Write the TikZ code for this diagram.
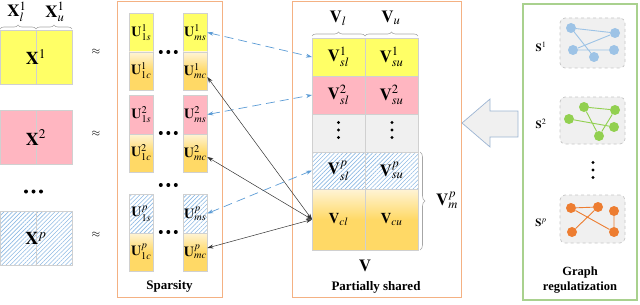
\documentclass[tikz,border=0pt]{standalone}
\usepackage{mathptmx}
\usepackage{fontspec}
\setmainfont{Liberation Serif}
\usetikzlibrary{patterns.meta,decorations.pathreplacing,fit,calc,arrows.meta}
\definecolor{cyel}{HTML}{FFFF66}
\definecolor{cpink}{HTML}{FFB6C1}
\definecolor{cgold}{HTML}{FFD966}
\definecolor{cgoldtop}{HTML}{FFF4D6}
\definecolor{chatch}{HTML}{8DB9E3}
\definecolor{cgray}{HTML}{F0F0F0}
\definecolor{cedge}{HTML}{D0D0D0}
\definecolor{corange}{HTML}{F4B183}
\definecolor{cgreen}{HTML}{A9D18E}
\definecolor{carrowb}{HTML}{5B9BD5}
\definecolor{cnblue}{HTML}{9DC3E6}
\definecolor{cngreen}{HTML}{92D050}
\definecolor{cnorange}{HTML}{ED7D31}
\definecolor{cbigarrow}{HTML}{9DB5D3}
\newcommand\myfs[1]{\fontsize{#1}{#1}\selectfont}
\newcommand\hdotsat[2]{\fill (#1-7.5,#2) circle (2pt) (#1,#2) circle (2pt) (#1+7.5,#2) circle (2pt);}
\newcommand\vdotsat[2]{\fill (#1,#2-7.5) circle (1.7pt) (#1,#2) circle (1.7pt) (#1,#2+7.5) circle (1.7pt);}
\tikzset{
  cell/.style={draw=cedge, line width=0.5pt, inner sep=0pt, outer sep=0pt},
  yel/.style={cell, fill=cyel},
  pnk/.style={cell, fill=cpink},
  gld/.style={cell, top color=cgoldtop, bottom color=cgold, middle color=cgold},
  hat/.style={cell, pattern={Lines[angle=45,distance=3pt,line width=0.6pt]}, pattern color=chatch},
  gry/.style={cell, fill=cgray},
  ucell/.style={minimum width=24pt, minimum height=39pt, font=\myfs{14}},
  ucellc/.style={minimum width=24pt, minimum height=38pt, font=\myfs{14}},
  vcell/.style={minimum width=53pt, minimum height=38pt, font=\myfs{17}},
  xcell/.style={minimum width=36pt, minimum height=54pt},
  brc/.style={decorate, decoration={brace, amplitude=4pt}, draw=gray!70, line width=0.6pt},
  frame/.style={inner sep=0pt, line width=1pt},
  panel/.style={draw=gray!45, dashed, fill=cgray, rounded corners=5pt, line width=0.7pt, inner sep=0pt},
  gn/.style={circle, inner sep=0pt, minimum size=10pt},
  blkarr/.style={draw=black!80, line width=0.5pt, {Stealth[length=6pt,width=4pt]}-{Stealth[length=6pt,width=4pt]}},
  bluarr/.style={draw=carrowb, line width=0.7pt, dash pattern=on 9pt off 5pt, {Stealth[length=6pt,width=4pt]}-{Stealth[length=6pt,width=4pt]}},
  lab/.style={font=\myfs{17}},
  bold/.style={font=\bfseries\myfs{13}}
}
\begin{document}
\begin{tikzpicture}[x=1pt,y=-1pt]
\useasboundingbox (0,0) rectangle (640,305);
% frames
\node[frame, draw=corange, fit={(117,2) (222,297)}] (spbox) {};
\node[frame, draw=corange, fit={(292,2) (461,297)}] (vbox) {};
\node[frame, draw=cgreen, line width=1.2pt, fit={(523,4) (637,300)}] (gbox) {};

% X blocks
\node[yel, xcell] (x1l) at (18,57) {};
\node[yel, xcell] (x1r) at (54,57) {};
\node[pnk, xcell] (x2l) at (18,137.5) {};
\node[pnk, xcell] (x2r) at (54,137.5) {};
\node[hat, xcell] (xpl) at (18,238.5) {};
\node[hat, xcell] (xpr) at (54,238.5) {};
\node[font=\myfs{18}] (x1) at (36,57) {$\mathbf{X}^1$};
\node[font=\myfs{18}] (x2) at (36,137.5) {$\mathbf{X}^2$};
\node[font=\myfs{18}] (xp) at (36,238.5) {$\mathbf{X}^p$};
\hdotsat{33.5}{191.5}
\draw[brc] ([yshift=1pt]x1l.north west) -- ([yshift=1pt]x1l.north east);
\draw[brc] ([yshift=1pt]x1r.north west) -- ([yshift=1pt]x1r.north east);
\node[lab] (xl) at (17,12) {$\mathbf{X}^1_l$};
\node[lab] (xu) at (55,12) {$\mathbf{X}^1_u$};
\node[font=\myfs{11}] (ap1) at (96,52) {$\approx$};
\node[font=\myfs{11}] (ap2) at (96,134) {$\approx$};
\node[font=\myfs{11}] (ap3) at (96,235) {$\approx$};

% U blocks
\node[yel, ucell] (u11s) at (141.3,32.5) {$\mathbf{U}^1_{1s}$};
\node[gld, ucellc] (u11c) at (141.3,71) {$\mathbf{U}^1_{1c}$};
\node[yel, ucell] (u1ms) at (195.3,32.5) {$\mathbf{U}^1_{ms}$};
\node[gld, ucellc] (u1mc) at (195.3,71) {$\mathbf{U}^1_{mc}$};
\node[pnk, ucell] (u21s) at (141.3,114.5) {$\mathbf{U}^2_{1s}$};
\node[gld, ucellc] (u21c) at (141.3,153) {$\mathbf{U}^2_{1c}$};
\node[pnk, ucell] (u2ms) at (195.3,114.5) {$\mathbf{U}^2_{ms}$};
\node[gld, ucellc] (u2mc) at (195.3,153) {$\mathbf{U}^2_{mc}$};
\node[hat, ucell] (up1s) at (141.3,213.5) {$\mathbf{U}^p_{1s}$};
\node[gld, ucellc] (up1c) at (141.3,252) {$\mathbf{U}^p_{1c}$};
\node[hat, ucell] (upms) at (195.3,213.5) {$\mathbf{U}^p_{ms}$};
\node[gld, ucellc] (upmc) at (195.3,252) {$\mathbf{U}^p_{mc}$};
\hdotsat{168.3}{52}
\hdotsat{168.3}{133}
\hdotsat{168.3}{185}
\hdotsat{168.3}{232}
\node[bold] (sparsity) at (169.5,286) {Sparsity};

% V blocks
\node[yel, vcell] (v1l) at (338.5,57) {$\mathbf{V}^1_{sl}$};
\node[yel, vcell] (v1u) at (391.5,57) {$\mathbf{V}^1_{su}$};
\node[pnk, vcell] (v2l) at (338.5,95) {$\mathbf{V}^2_{sl}$};
\node[pnk, vcell] (v2u) at (391.5,95) {$\mathbf{V}^2_{su}$};
\node[gry, vcell] (vdl) at (338.5,133) {};
\node[gry, vcell] (vdu) at (391.5,133) {};
\vdotsat{338.5}{130}
\vdotsat{392}{130}
\node[hat, vcell, minimum height=37pt] (vpl) at (338.5,170.5) {$\mathbf{V}^p_{sl}$};
\node[hat, vcell, minimum height=37pt] (vpu) at (391.5,170.5) {$\mathbf{V}^p_{su}$};
\node[gld, vcell, minimum height=61pt, font=\myfs{15}] (vcl) at (338.5,219.5) {$\mathbf{V}_{cl}$};
\node[gld, vcell, minimum height=61pt, font=\myfs{15}] (vcu) at (391.5,219.5) {$\mathbf{V}_{cu}$};
\draw[brc] ([yshift=2pt]v1l.north west) -- ([yshift=2pt]v1l.north east);
\draw[brc] ([yshift=2pt]v1u.north west) -- ([yshift=2pt]v1u.north east);
\draw[brc, decoration={brace, amplitude=5pt}] ([xshift=2pt]vpu.north east) -- ([xshift=2pt]vcu.south east);
\node[lab] (vl) at (338,18) {$\mathbf{V}_l$};
\node[lab] (vu) at (391,18) {$\mathbf{V}_u$};
\node[lab] (vmp) at (447,200) {$\mathbf{V}^p_m$};
\node[lab] (vbig) at (365,266) {$\mathbf{V}$};
\node[bold] (pshared) at (376,287) {Partially shared};

% connectors
\draw[bluarr] (u1ms.east) -- (v1l.west);
\draw[bluarr] (u2ms.east) -- (v2l.west);
\draw[bluarr] (upms.east) -- (vpl.west);
\draw[blkarr] ([yshift=-6pt]u1mc.east) -- (vcl.west);
\draw[blkarr] ([yshift=-4pt]u2mc.east) -- (vcl.west);
\draw[blkarr] ([yshift=4pt]upmc.east) -- (vcl.west);

% big hollow arrow
\draw[draw=cbigarrow, fill=cgray, line width=0.7pt] (462,123) -- (490,99) -- (490,111) -- (518,111) -- (518,137) -- (490,137) -- (490,147) -- cycle;

% graphs
\node[panel, fit={(560,18) (625,68)}] (p1) {};
\node[panel, fit={(560,97) (625,144)}] (p2) {};
\node[panel, fit={(560,195) (625,243)}] (p3) {};
\node[font=\myfs{11}] (s1) at (541,47) {$\mathbf{S}^1$};
\node[font=\myfs{11}] (s2) at (541,124) {$\mathbf{S}^2$};
\node[font=\myfs{11}] (sp) at (541,223) {$\mathbf{S}^p$};
\vdotsat{593}{170}

\begin{scope}[every node/.style={gn, fill=cnblue}]
\node (a1) at (571,28) {}; \node (b1) at (615,33) {}; \node (c1) at (573,50) {};
\node (d1) at (614,50) {}; \node (e1) at (594,57) {};
\end{scope}
\draw[cnblue, line width=0.9pt] (a1) -- (b1) (a1) -- (e1) (c1) -- (b1) (c1) -- (d1);
\begin{scope}[every node/.style={gn, fill=cngreen}]
\node (a2) at (584,107) {}; \node (b2) at (615,110) {}; \node (c2) at (569,119) {};
\node (d2) at (614,127) {}; \node (e2) at (599,136) {};
\end{scope}
\draw[cngreen, line width=0.9pt] (a2) -- (b2) (a2) -- (e2) (c2) -- (d2) (b2) -- (e2);
\begin{scope}[every node/.style={gn, fill=cnorange}]
\node (a3) at (571,208) {}; \node (b3) at (598,207) {}; \node (c3) at (614,211) {};
\node (d3) at (572,232) {}; \node (e3) at (614,232) {};
\end{scope}
\draw[cnorange, line width=0.9pt] (a3) -- (b3) (a3) -- (e3) (d3) -- (b3) (c3) -- (e3);
\node[bold, font=\bfseries\fontsize{12.5}{15}\selectfont, align=center] (gt) at (580,280.5) {Graph\\regulatization};
\end{tikzpicture}
\end{document}
